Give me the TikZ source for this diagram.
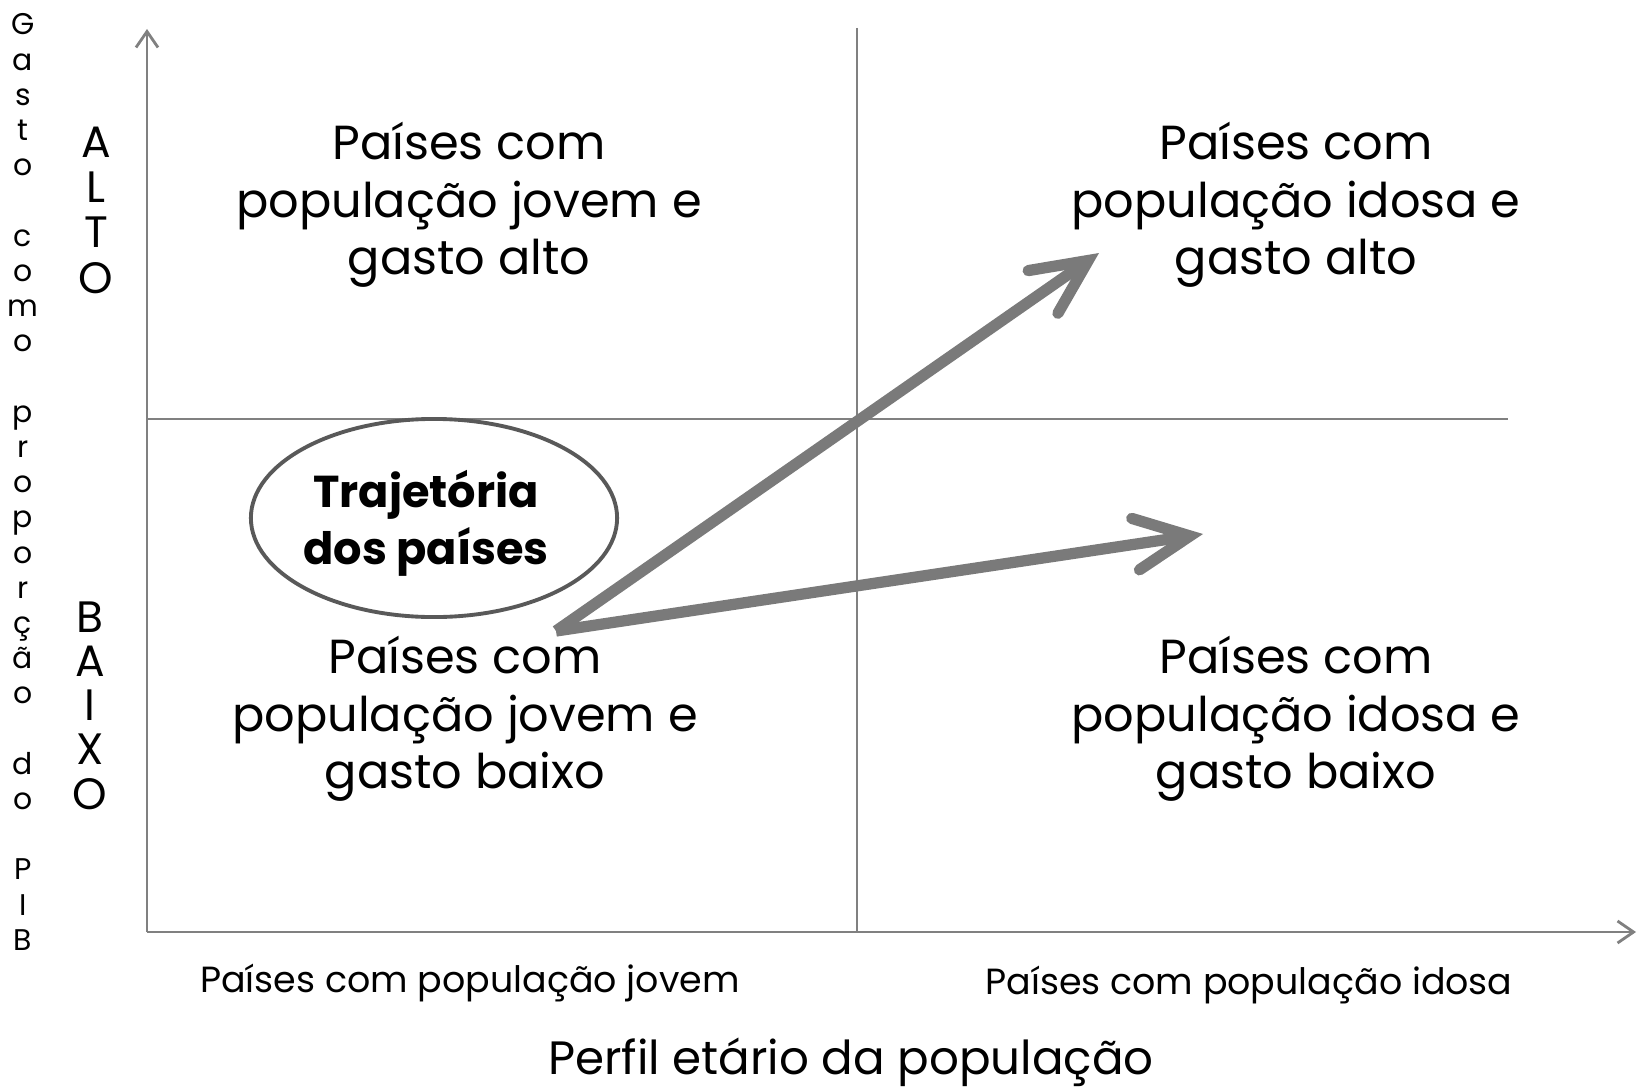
\documentclass[tikz,border=0pt]{standalone}
\usepackage{fontspec}
\setmainfont{Poppins}
\usetikzlibrary{arrows.meta,shapes.geometric}
\definecolor{axisgray}{HTML}{808080}
\definecolor{arrowgray}{HTML}{7A7A7A}
\definecolor{ringgray}{HTML}{595959}

\begin{document}
\begin{tikzpicture}
[x=0.01cm, y=-0.01cm,
 axisline/.style={draw=axisgray, line width=0.8pt},
 quadtext/.style={align=center, font=\fontsize{13.6}{16.3}\selectfont},
 axislabel/.style={font=\fontsize{10.35}{12}\selectfont},
 sideletter/.style={anchor=base, font=\fontsize{8.5}{10}\selectfont},
 bigletter/.style={anchor=base, font=\fontsize{12.5}{14}\selectfont},
 trend/.style={draw=arrowgray, line width=3.2pt,
   -{Straight Barb[length=5.5mm, width=5.2mm, line cap=round]}}]
\useasboundingbox (0,0) rectangle (1637,1088);
%% axes and quadrant lines
\coordinate (origin) at (147,932);
\coordinate (ytop) at (147,29);
\coordinate (xend) at (1636,932);
\coordinate (vtop) at (857,28);
\coordinate (vbottom) at (857,932);
\coordinate (hleft) at (147,419);
\coordinate (hright) at (1508,419);
\draw[axisline, -{Straight Barb[length=1.6mm, width=2.2mm]}] (origin) -- (ytop);
\draw[axisline, -{Straight Barb[length=1.6mm, width=2.2mm]}] (origin) -- (xend);
\draw[axisline] (vtop) -- (vbottom);
\draw[axisline] (hleft) -- (hright);
%% quadrant texts
\node[quadtext] (youngHigh) at (469,205) {Países com\\população jovem e\\gasto alto};
\node[quadtext] (oldHigh) at (1296,205) {Países com\\população idosa e\\gasto alto};
\node[quadtext] (youngLow) at (465,719) {Países com\\população jovem e\\gasto baixo};
\node[quadtext] (oldLow) at (1296,719) {Países com\\população idosa e\\gasto baixo};
%% axis labels
\node[axislabel] (youngLabel) at (470,983) {Países com população jovem};
\node[axislabel] (oldLabel) at (1249,985) {Países com população idosa};
\node[font=\fontsize{13.3}{16}\selectfont] (xTitle) at (851,1062) {Perfil etário da população};
\foreach \ch [count=\i from 0] in {G,a,s,t,o,{},c,o,m,o,{},p,r,o,p,o,r,ç,ã,o,{},d,o,{},P,I,B}
  \node[sideletter] (gasto\i) at (23,{35+35.2*\i}) {\ch};
\foreach \ch [count=\i from 0] in {A,L,T,O}
  \node[bigletter] (alto\i) at (96,{157+45.5*\i}) {\ch};
\foreach \ch [count=\i from 0] in {B,A,I,X,O}
  \node[bigletter] (baixo\i) at (90,{632+44.3*\i}) {\ch};
%% trajectory
\node[draw=ringgray, line width=1.1pt, ellipse, minimum width=3.66cm,
  minimum height=1.98cm, inner sep=0pt] (trajRing) at (434,518) {};
\node[align=center, font=\bfseries\fontsize{12.7}{16.3}\selectfont] (trajText) at (426,523) {Trajetória\\dos países};
\coordinate (start) at (556,631);
\coordinate (upEnd) at (1099,253);
\coordinate (rightEnd) at (1203,534);
\draw[trend] (start) -- (upEnd);
\draw[trend] (start) -- (rightEnd);
\end{tikzpicture}
\end{document}
